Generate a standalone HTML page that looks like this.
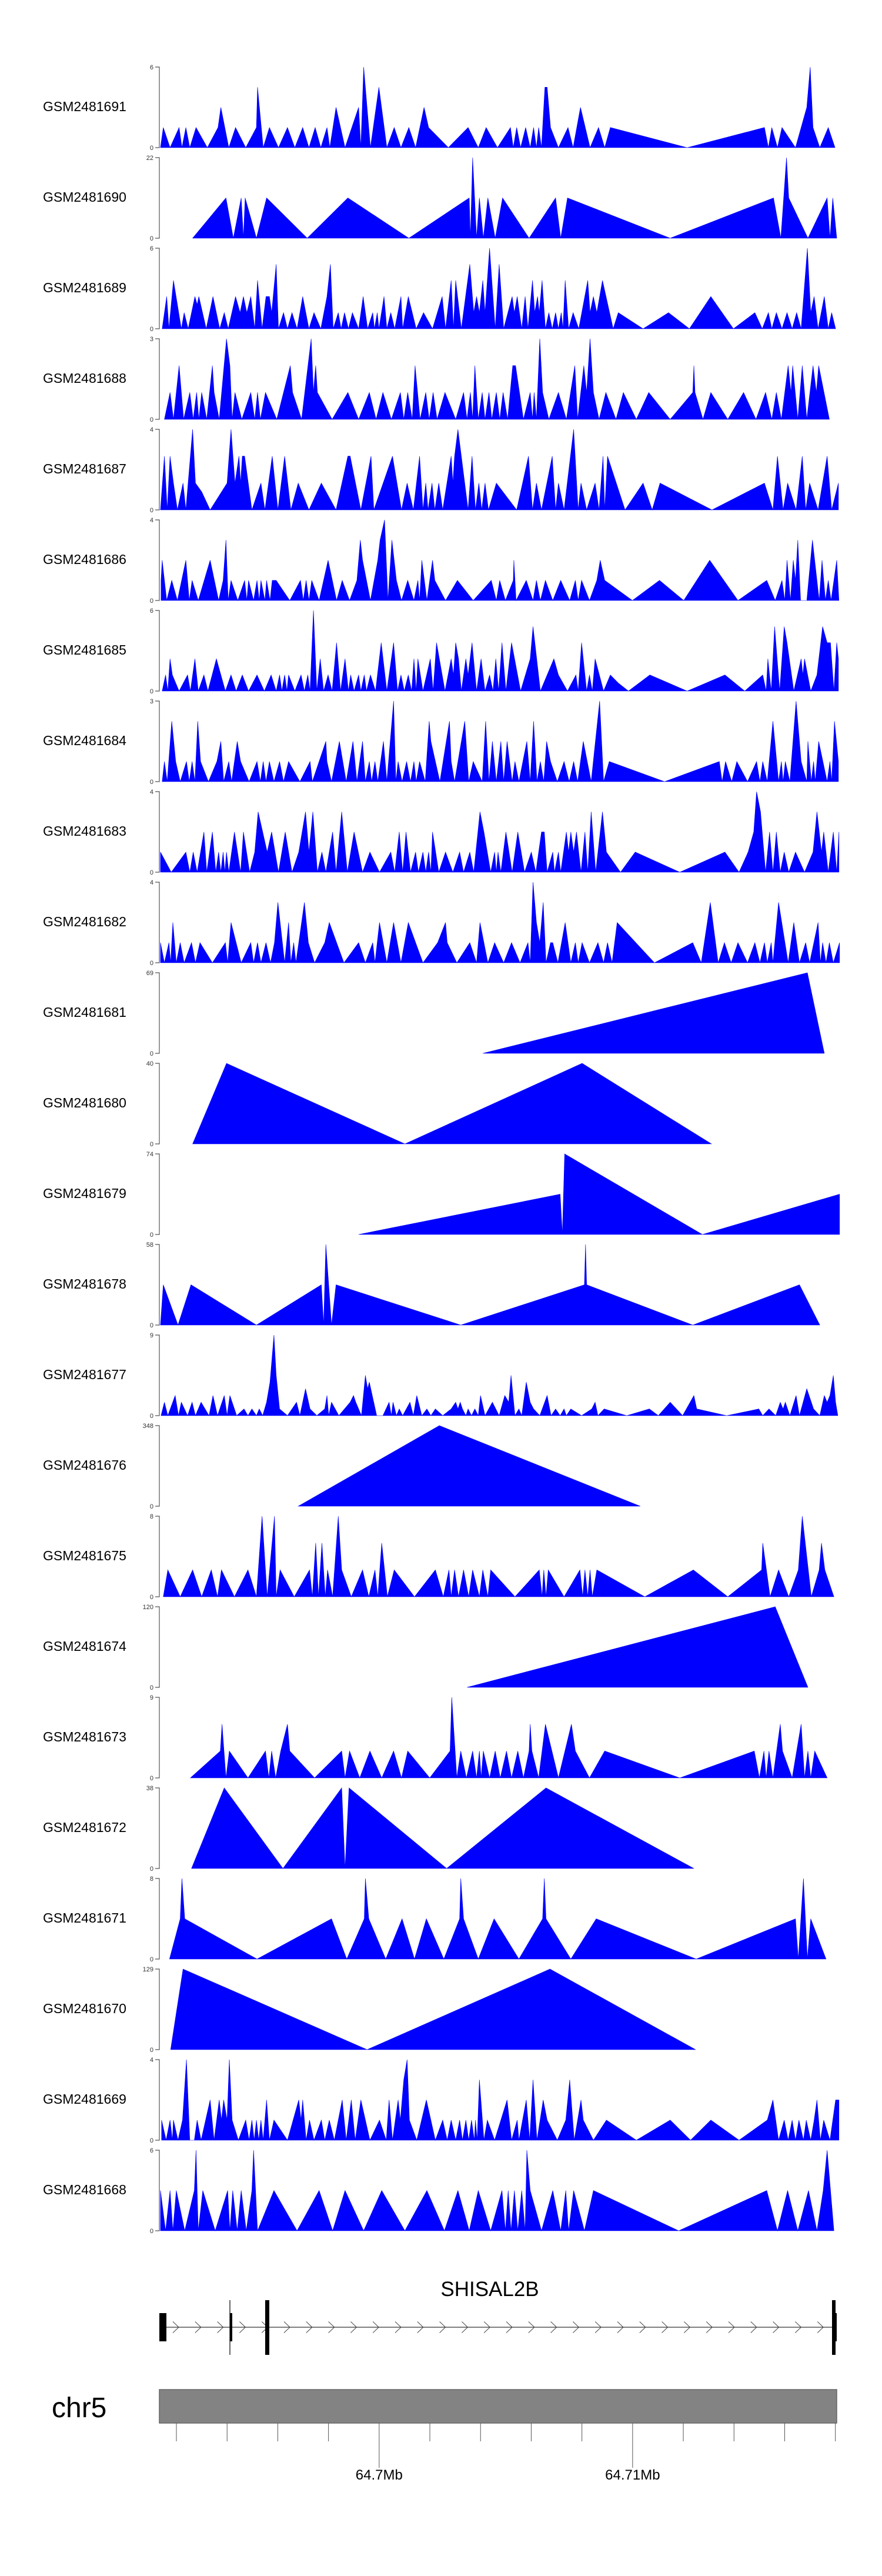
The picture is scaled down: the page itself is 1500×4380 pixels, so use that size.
<!DOCTYPE html>
<html><head><meta charset="utf-8"><style>
html,body{margin:0;padding:0;background:#fff;}
svg{display:block;font-family:"Liberation Sans",Arial,sans-serif;}
</style></head><body>
<svg id="chart" xmlns="http://www.w3.org/2000/svg" width="1500" height="4380" viewBox="0 0 1500 4380">
<g id="tracks"></g>
<g id="gene">
  <text x="833" y="3904" font-size="35" text-anchor="middle" fill="#000">SHISAL2B</text>
  <line x1="283" y1="3957" x2="1416" y2="3957" stroke="#333" stroke-width="1.3"/>
  <g id="chevrons"></g>
  <rect x="271" y="3933" width="12" height="48" fill="#000"/>
  <line x1="391" y1="3911" x2="391" y2="4004" stroke="#000" stroke-width="1.2"/>
  <rect x="391" y="3933" width="4" height="48" fill="#000"/>
  <rect x="451" y="3911" width="7" height="93" fill="#000"/>
  <rect x="1415" y="3911" width="6" height="93" fill="#000"/>
  <rect x="1420" y="3933" width="3" height="48" fill="#000"/>
</g>
<g id="ideo">
  <text x="88" y="4110" font-size="48" fill="#000">chr5</text>
  <rect x="271" y="4063" width="1152" height="57" fill="#838383" stroke="#666" stroke-width="1.5"/>
  <g id="gticks"></g>
</g>
</svg>
<script>
const sampleNames = ["GSM2481691","GSM2481690","GSM2481689","GSM2481688","GSM2481687","GSM2481686","GSM2481685","GSM2481684","GSM2481683","GSM2481682","GSM2481681","GSM2481680","GSM2481679","GSM2481678","GSM2481677","GSM2481676","GSM2481675","GSM2481674","GSM2481673","GSM2481672","GSM2481671","GSM2481670","GSM2481669","GSM2481668"];
const yMaxes = [6,22,6,3,4,4,6,3,4,4,69,40,74,58,9,348,8,120,9,38,8,129,4,6];
// each track: [position (genomic units from region start), coverage]
const t1 = [[.02,0],[.07,1.5],[.19,0],[.35,1.5],[.40,0],[.47,1.5],[.54,0],[.65,1.5],[.85,0],[1.04,1.5],[1.09,3],[1.23,0],[1.35,1.5],[1.53,0],[1.72,1.5],[1.74,4.5],[1.84,0],[1.95,1.5],[2.11,0],[2.27,1.5],[2.40,0],[2.54,1.5],[2.65,0],[2.76,1.5],[2.86,0],[2.97,1.5],[3.02,0],[3.13,3],[3.29,0],[3.53,3],[3.57,0],[3.62,6],[3.74,0],[3.89,4.5],[4.03,0],[4.16,1.5],[4.28,0],[4.42,1.5],[4.54,0],[4.69,3],[4.77,1.5],[5.12,0],[5.47,1.5],[5.65,0],[5.79,1.5],[5.99,0],[6.22,1.5],[6.27,0],[6.33,1.5],[6.40,0],[6.49,1.5],[6.57,0],[6.63,1.5],[6.68,0],[6.72,1.5],[6.77,0],[6.83,4.5],[6.87,4.5],[6.93,1.5],[7.07,0],[7.24,1.5],[7.33,0],[7.46,3],[7.63,0],[7.78,1.5],[7.89,0],[7.99,1.5],[9.35,0],[10.72,1.5],[10.79,0],[10.85,1.5],[10.95,0],[11.03,1.5],[11.27,0],[11.47,3],[11.53,6],[11.58,1.5],[11.70,0],[11.85,1.5],[11.97,0]];
const t2 = [[.59,0],[1.18,11],[1.31,0],[1.45,11],[1.49,0],[1.52,11],[1.72,0],[1.90,11],[2.62,0],[3.34,11],[4.42,0],[5.49,11],[5.51,0],[5.55,22],[5.62,0],[5.67,11],[5.74,0],[5.82,11],[5.95,0],[6.08,11],[6.55,0],[7.02,11],[7.11,0],[7.23,11],[9.05,0],[10.88,11],[11.01,0],[11.11,22],[11.15,11],[11.49,0],[11.83,11],[11.88,0],[11.93,11],[12.0,0]];
const t3 = [[.05,0],[.13,2.4],[.17,0],[.25,3.6],[.39,0],[.44,1.2],[.51,0],[.63,2.4],[.67,1.8],[.70,2.4],[.83,0],[.95,2.4],[1.07,0],[1.15,1.2],[1.22,0],[1.35,2.4],[1.43,1.2],[1.49,2.4],[1.55,1.2],[1.62,2.4],[1.69,0],[1.74,3.6],[1.82,0],[1.89,2.4],[1.95,2.4],[1.99,1.2],[2.07,4.8],[2.11,0],[2.20,1.2],[2.27,0],[2.35,1.2],[2.44,0],[2.54,2.4],[2.65,0],[2.74,1.2],[2.86,0],[2.97,2.4],[3.03,4.8],[3.08,0],[3.17,1.2],[3.22,0],[3.28,1.2],[3.35,0],[3.42,1.2],[3.53,0],[3.61,2.4],[3.69,0],[3.78,1.2],[3.81,0],[3.86,1.2],[3.89,0],[3.98,2.4],[4.03,0],[4.10,1.2],[4.17,0],[4.28,2.4],[4.31,0],[4.41,2.4],[4.55,0],[4.68,1.2],[4.84,0],[5.01,2.4],[5.07,0],[5.17,3.6],[5.21,0],[5.25,3.6],[5.35,0],[5.50,4.8],[5.57,1.2],[5.62,2.4],[5.67,1.2],[5.73,3.6],[5.77,1.2],[5.85,6],[5.95,0],[6.02,4.8],[6.10,0],[6.25,2.4],[6.29,1.2],[6.34,2.4],[6.42,0],[6.48,2.4],[6.53,0],[6.61,3.6],[6.65,1.2],[6.70,2.4],[6.73,1.2],[6.78,3.6],[6.84,0],[6.90,1.2],[6.96,0],[7.02,1.2],[7.07,0],[7.12,1.2],[7.15,0],[7.19,3.6],[7.25,0],[7.33,1.2],[7.43,0],[7.59,3.6],[7.63,1.2],[7.69,2.4],[7.75,1.2],[7.85,3.6],[8.04,0],[8.13,1.2],[8.57,0],[9.02,1.2],[9.39,0],[9.77,2.4],[10.17,0],[10.55,1.2],[10.68,0],[10.79,1.2],[10.85,0],[10.93,1.2],[11.03,0],[11.12,1.2],[11.21,0],[11.29,1.2],[11.37,0],[11.48,6],[11.54,1.2],[11.60,2.4],[11.67,0],[11.78,2.4],[11.85,0],[11.91,1.2],[11.98,0]];
const t4 = [[.09,0],[.19,1],[.25,0],[.35,2],[.43,0],[.54,1],[.60,0],[.66,1],[.70,0],[.75,1],[.84,0],[.94,2],[.97,1],[1.06,0],[1.19,3],[1.25,2],[1.29,0],[1.34,1],[1.46,0],[1.62,1],[1.69,0],[1.74,1],[1.79,0],[1.88,1],[2.08,0],[2.32,2],[2.36,1],[2.52,0],[2.69,3],[2.73,1],[2.77,2],[2.80,1],[3.06,0],[3.34,1],[3.53,0],[3.72,1],[3.84,0],[3.96,1],[4.11,0],[4.27,1],[4.33,0],[4.40,1],[4.48,0],[4.53,2],[4.62,0],[4.72,1],[4.78,0],[4.85,1],[4.92,0],[5.06,1],[5.25,0],[5.39,1],[5.45,0],[5.51,1],[5.55,0],[5.59,2],[5.65,0],[5.72,1],[5.77,0],[5.84,1],[5.89,0],[5.97,1],[6.03,0],[6.09,1],[6.17,0],[6.26,2],[6.31,2],[6.45,0],[6.57,1],[6.61,0],[6.64,1],[6.68,0],[6.74,3],[6.79,1],[6.90,0],[7.07,1],[7.21,0],[7.36,2],[7.41,0],[7.52,2],[7.57,1],[7.63,3],[7.69,1],[7.79,0],[7.91,1],[8.09,0],[8.22,1],[8.45,0],[8.67,1],[9.05,0],[9.45,1],[9.47,2],[9.49,1],[9.63,0],[9.77,1],[10.07,0],[10.35,1],[10.57,0],[10.74,1],[10.85,0],[10.93,1],[11.02,0],[11.14,2],[11.19,1],[11.22,2],[11.31,0],[11.39,2],[11.47,0],[11.58,2],[11.64,1],[11.68,2],[11.87,0]];
const t5 = [[.02,0],[.09,2.67],[.14,0],[.19,2.67],[.25,1.33],[.32,0],[.42,1.33],[.47,0],[.59,4],[.64,1.33],[.75,.9],[.90,0],[1.20,1.33],[1.27,4],[1.34,1.33],[1.41,2.67],[1.44,1.33],[1.47,2.67],[1.51,2.67],[1.64,0],[1.80,1.33],[1.87,0],[2.00,2.67],[2.10,0],[2.22,2.67],[2.33,0],[2.46,1.33],[2.65,0],[2.87,1.33],[3.13,0],[3.34,2.67],[3.38,2.67],[3.57,0],[3.75,2.67],[3.80,0],[4.13,2.67],[4.29,0],[4.39,1.33],[4.50,0],[4.61,2.67],[4.67,0],[4.72,1.33],[4.76,0],[4.83,1.33],[4.88,0],[4.95,1.33],[5.02,0],[5.17,2.67],[5.20,1.33],[5.23,2.67],[5.29,4],[5.47,0],[5.54,2.67],[5.60,0],[5.66,1.33],[5.71,0],[5.77,1.33],[5.83,0],[5.97,1.33],[6.33,0],[6.54,2.67],[6.61,0],[6.68,1.33],[6.77,0],[6.96,2.67],[7.02,0],[7.07,1.33],[7.17,0],[7.34,4],[7.42,0],[7.47,1.33],[7.57,0],[7.72,1.33],[7.79,0],[7.86,2.67],[7.89,0],[7.94,2.67],[8.25,0],[8.57,1.33],[8.73,0],[8.87,1.33],[9.79,0],[10.72,1.33],[10.87,0],[10.95,2.67],[11.05,0],[11.13,1.33],[11.28,0],[11.39,2.67],[11.45,0],[11.52,1.33],[11.67,0],[11.83,2.67],[11.91,0],[12.03,1.33]];
const t6 = [[.03,1],[.05,2],[.13,0],[.22,1],[.32,0],[.47,2],[.53,0],[.58,1],[.69,0],[.90,2],[1.05,0],[1.13,1],[1.18,3],[1.22,0],[1.27,1],[1.39,0],[1.51,1],[1.55,0],[1.58,1],[1.67,0],[1.73,1],[1.77,0],[1.80,1],[1.87,0],[1.90,1],[1.96,0],[2.00,1],[2.07,1],[2.31,0],[2.50,1],[2.55,0],[2.60,1],[2.65,0],[2.70,1],[2.83,0],[2.99,2],[3.14,0],[3.24,1],[3.37,0],[3.50,1],[3.56,3],[3.60,2],[3.74,0],[3.87,2],[3.91,3],[3.99,4],[4.05,0],[4.12,3],[4.20,1],[4.29,0],[4.40,1],[4.51,0],[4.58,1],[4.61,0],[4.65,2],[4.74,0],[4.84,2],[4.88,1],[5.07,0],[5.28,1],[5.56,0],[5.88,1],[5.97,0],[6.03,1],[6.13,0],[6.27,1],[6.28,2],[6.32,0],[6.50,1],[6.62,0],[6.68,1],[6.75,0],[6.84,1],[6.97,0],[7.11,1],[7.27,0],[7.37,1],[7.42,0],[7.48,1],[7.62,0],[7.75,1],[7.81,2],[7.89,1],[8.38,0],[8.86,1],[9.29,0],[9.75,2],[10.25,0],[10.76,1],[10.91,0],[11.03,1],[11.08,0],[11.12,2],[11.18,0],[11.23,2],[11.27,1],[11.31,3],[11.36,0],[11.47,0],[11.57,3],[11.69,0],[11.74,2],[11.80,0],[11.85,1],[11.90,0],[12.00,2],[12.04,0]];
const t7 = [[.05,0],[.11,1.2],[.15,0],[.19,2.4],[.23,1.2],[.29,.6],[.35,0],[.50,1.2],[.55,0],[.63,2.4],[.69,0],[.79,1.2],[.86,0],[1.01,2.4],[1.17,0],[1.27,1.2],[1.36,0],[1.47,1.2],[1.58,0],[1.73,1.2],[1.86,0],[1.98,1.2],[2.07,0],[2.13,1.2],[2.17,0],[2.22,1.2],[2.26,0],[2.29,1.2],[2.40,0],[2.51,1.2],[2.57,0],[2.63,1.2],[2.67,0],[2.73,6],[2.79,0],[2.85,2.4],[2.91,0],[2.99,1.2],[3.06,0],[3.14,3.6],[3.21,0],[3.29,2.4],[3.35,0],[3.39,1.2],[3.45,0],[3.53,1.2],[3.57,0],[3.63,1.2],[3.67,0],[3.74,1.2],[3.83,0],[3.93,3.6],[4.03,0],[4.15,3.6],[4.22,0],[4.28,1.2],[4.34,0],[4.41,1.2],[4.47,0],[4.51,2.4],[4.55,0],[4.58,2.4],[4.67,0],[4.80,2.4],[4.85,0],[4.91,3.6],[5.06,0],[5.17,2.4],[5.21,1.2],[5.25,3.6],[5.30,2.4],[5.35,0],[5.43,2.4],[5.47,1.2],[5.54,3.6],[5.62,0],[5.70,2.4],[5.77,0],[5.85,1.2],[5.91,0],[5.96,2.4],[6.01,0],[6.07,3.6],[6.14,0],[6.24,3.6],[6.40,0],[6.57,2.4],[6.62,4.8],[6.75,0],[6.99,2.4],[7.07,1.2],[7.23,0],[7.38,1.2],[7.42,0],[7.48,3.6],[7.57,0],[7.62,1.2],[7.67,0],[7.72,2.4],[7.87,0],[7.99,1.2],[8.13,.6],[8.31,0],[8.69,1.2],[9.35,0],[10.02,1.2],[10.37,0],[10.69,1.2],[10.75,0],[10.78,2.4],[10.84,0],[10.90,4.8],[10.99,0],[11.07,4.8],[11.12,3.6],[11.24,0],[11.37,2.4],[11.40,1.2],[11.43,2.4],[11.54,0],[11.65,1.2],[11.75,4.8],[11.83,3.6],[11.89,3.6],[11.95,0],[12.00,3.6],[12.03,2.4]];
const t8 = [[.05,0],[.09,.75],[.14,0],[.22,2.25],[.29,.75],[.37,0],[.48,.75],[.53,0],[.58,.75],[.63,0],[.68,2.25],[.73,.75],[.87,0],[1.02,.75],[1.09,1.5],[1.14,0],[1.23,.75],[1.28,0],[1.38,1.5],[1.44,.75],[1.59,0],[1.73,.75],[1.79,0],[1.84,.75],[1.89,0],[1.95,.75],[2.03,0],[2.13,.75],[2.20,0],[2.29,.75],[2.49,0],[2.67,.75],[2.71,0],[2.95,1.5],[2.97,.75],[3.05,0],[3.19,1.5],[3.31,0],[3.43,1.5],[3.50,0],[3.60,1.5],[3.65,0],[3.72,.75],[3.76,0],[3.82,.75],[3.87,0],[3.97,1.5],[4.03,0],[4.15,3],[4.19,0],[4.23,.75],[4.30,0],[4.38,.75],[4.45,0],[4.51,.75],[4.55,0],[4.61,.75],[4.71,0],[4.78,2.25],[4.81,1.5],[4.97,0],[5.14,2.25],[5.17,.75],[5.23,0],[5.41,2.25],[5.48,0],[5.56,.75],[5.72,0],[5.78,2.25],[5.84,0],[5.90,1.5],[5.97,0],[6.05,1.5],[6.10,0],[6.16,1.5],[6.25,0],[6.30,.75],[6.37,0],[6.51,1.5],[6.57,0],[6.63,2.25],[6.69,0],[6.75,.75],[6.81,0],[6.86,1.5],[6.93,.75],[7.05,0],[7.17,.75],[7.26,0],[7.34,.75],[7.41,0],[7.51,1.5],[7.65,0],[7.80,3],[7.87,0],[7.97,.75],[8.95,0],[9.92,.75],[9.97,0],[10.03,.75],[10.14,0],[10.23,.75],[10.42,0],[10.58,.75],[10.64,0],[10.69,.75],[10.77,0],[10.87,2.25],[10.97,0],[11.02,.75],[11.05,0],[11.09,.75],[11.17,0],[11.28,3],[11.37,.75],[11.47,0],[11.49,1.5],[11.55,0],[11.59,.75],[11.62,0],[11.68,1.5],[11.83,0],[11.88,.75],[11.91,0],[11.96,2.25],[12.03,.75]];
const t9 = [[.02,1],[.21,0],[.47,1],[.54,0],[.60,1],[.67,0],[.73,1],[.79,2],[.84,0],[.94,2],[1.00,0],[1.05,1],[1.09,0],[1.13,1],[1.16,0],[1.19,1],[1.23,0],[1.33,2],[1.44,0],[1.49,2],[1.60,0],[1.69,1],[1.75,3],[1.83,2],[1.91,1],[1.99,2],[2.11,0],[2.23,2],[2.35,0],[2.47,1],[2.59,3],[2.65,1],[2.72,3],[2.80,0],[2.88,1],[2.95,0],[3.07,2],[3.13,0],[3.23,3],[3.33,0],[3.45,2],[3.60,0],[3.73,1],[3.90,0],[4.10,1],[4.17,0],[4.25,2],[4.31,0],[4.37,2],[4.45,0],[4.54,1],[4.59,0],[4.67,1],[4.72,0],[4.77,1],[4.81,0],[4.84,2],[4.95,0],[5.07,1],[5.20,0],[5.32,1],[5.39,0],[5.50,1],[5.57,0],[5.68,3],[5.75,2],[5.87,0],[5.94,1],[5.97,0],[6.00,1],[6.05,0],[6.14,2],[6.25,0],[6.35,2],[6.47,0],[6.59,1],[6.67,0],[6.77,2],[6.82,2],[6.87,0],[6.97,1],[7.00,0],[7.07,1],[7.11,0],[7.21,2],[7.25,1],[7.29,2],[7.34,1],[7.39,2],[7.47,0],[7.54,2],[7.59,0],[7.65,3],[7.73,0],[7.85,3],[7.92,1],[8.17,0],[8.43,1],[9.22,0],[10.02,1],[10.27,0],[10.43,1],[10.53,2],[10.58,4],[10.65,3],[10.74,0],[10.81,2],[10.87,0],[10.93,2],[11.00,0],[11.07,1],[11.15,0],[11.27,1],[11.43,0],[11.58,1],[11.65,3],[11.73,1],[11.77,2],[11.85,0],[11.94,2],[12.00,0],[12.04,2]];
const t10 = [[.02,1],[.09,0],[.17,1],[.20,0],[.24,2],[.30,0],[.37,1],[.44,0],[.57,1],[.64,0],[.72,1],[.94,0],[1.17,1],[1.21,0],[1.27,2],[1.45,0],[1.62,1],[1.67,0],[1.74,1],[1.80,0],[1.89,1],[1.97,0],[2.04,1],[2.10,3],[2.22,0],[2.29,2],[2.33,0],[2.38,1],[2.42,0],[2.57,3],[2.64,1],[2.75,0],[2.93,1],[3.01,2],[3.27,0],[3.53,1],[3.65,0],[3.78,1],[3.82,0],[3.90,2],[4.03,0],[4.15,2],[4.28,0],[4.41,2],[4.67,0],[4.93,1],[5.07,2],[5.10,1],[5.27,0],[5.50,1],[5.62,0],[5.68,2],[5.82,0],[5.94,1],[6.10,0],[6.24,1],[6.39,0],[6.53,1],[6.57,0],[6.62,4],[6.68,2],[6.74,1],[6.80,3],[6.85,0],[6.93,1],[6.97,1],[7.06,0],[7.19,2],[7.29,0],[7.37,1],[7.42,0],[7.49,1],[7.62,0],[7.77,1],[7.87,0],[7.94,1],[8.02,0],[8.11,2],[8.77,0],[9.45,1],[9.60,0],[9.76,3],[9.90,0],[10.01,1],[10.13,0],[10.25,1],[10.42,0],[10.55,1],[10.64,0],[10.72,1],[10.77,0],[10.84,1],[10.87,0],[10.97,3],[11.14,0],[11.24,2],[11.34,0],[11.45,1],[11.52,0],[11.67,2],[11.71,0],[11.75,1],[11.81,0],[11.87,1],[11.94,0],[12.05,1]];
const t11 = [[5.73,0],[11.48,69],[11.78,0]];
const t12 = [[.59,0],[1.19,40],[4.35,0],[7.49,40],[9.78,0]];
const t13 = [[3.53,0],[7.10,37],[7.14,0],[7.18,74],[9.62,0],[12.05,37]];
const t14 = [[.02,0],[.07,29],[.33,0],[.56,29],[1.72,0],[2.87,29],[2.91,0],[2.95,58],[3.05,0],[3.13,29],[5.34,0],[7.53,29],[7.55,58],[7.57,29],[9.45,0],[11.34,29],[11.70,0]];
const t15 = [[.03,0],[.09,1.5],[.15,0],[.28,2.25],[.34,0],[.39,1.5],[.50,0],[.58,1.5],[.64,0],[.74,1.5],[.88,0],[.95,2.25],[1.03,0],[1.15,2.25],[1.20,0],[1.25,2.25],[1.37,0],[1.50,.75],[1.57,0],[1.64,.75],[1.72,0],[1.77,.75],[1.83,0],[1.90,1.5],[1.96,3.75],[2.03,9],[2.07,4.5],[2.13,.75],[2.27,0],[2.43,1.5],[2.49,0],[2.59,3],[2.67,.75],[2.79,0],[2.93,.75],[2.97,2.25],[3.00,0],[3.05,1.5],[3.18,0],[3.28,.75],[3.38,1.5],[3.44,2.25],[3.48,1.5],[3.58,0],[3.65,4.5],[3.69,3],[3.72,3.75],[3.85,0],[3.96,0],[4.07,1.5],[4.11,0],[4.14,1.5],[4.20,0],[4.25,.75],[4.31,0],[4.44,1.5],[4.50,0],[4.56,2.25],[4.65,0],[4.74,.75],[4.81,0],[4.89,.75],[5.02,0],[5.17,.75],[5.25,1.5],[5.29,.75],[5.33,1.5],[5.37,.75],[5.43,0],[5.47,.75],[5.53,0],[5.59,.75],[5.65,0],[5.69,2.25],[5.77,0],[5.90,1.5],[6.02,0],[6.12,2.25],[6.19,1.5],[6.23,4.5],[6.30,0],[6.37,.75],[6.42,0],[6.50,3.75],[6.57,1.5],[6.63,.75],[6.74,0],[6.87,2.25],[6.94,0],[7.02,.75],[7.10,0],[7.17,.75],[7.21,0],[7.29,.75],[7.48,0],[7.66,.75],[7.72,1.5],[7.77,0],[7.88,.75],[8.28,0],[8.68,.75],[8.84,0],[9.05,1.5],[9.27,0],[9.47,2.25],[9.52,.75],[10.05,0],[10.62,.75],[10.69,0],[10.80,.75],[10.92,0],[11.00,1.5],[11.05,.75],[11.09,1.5],[11.17,0],[11.28,2.25],[11.34,0],[11.47,3],[11.59,.75],[11.70,0],[11.78,2.25],[11.83,1.5],[11.88,2.25],[11.94,4.5],[11.98,1.5],[12.02,0]];
const t16 = [[2.46,0],[4.96,348],[8.52,0]];
const t17 = [[.07,0],[.15,2.67],[.37,0],[.59,2.67],[.75,0],[.92,2.67],[1.03,0],[1.10,2.67],[1.33,0],[1.57,2.67],[1.72,0],[1.82,8],[1.91,0],[2.04,8],[2.07,0],[2.14,2.67],[2.39,0],[2.66,2.67],[2.71,0],[2.77,5.33],[2.82,0],[2.88,5.33],[2.94,0],[2.98,2.67],[3.07,0],[3.17,8],[3.23,2.67],[3.40,0],[3.60,2.67],[3.71,0],[3.82,2.67],[3.87,0],[3.94,5.33],[4.04,0],[4.16,2.67],[4.52,0],[4.89,2.67],[5.03,0],[5.13,2.67],[5.17,0],[5.23,2.67],[5.30,0],[5.39,2.67],[5.48,0],[5.55,2.67],[5.67,0],[5.73,2.67],[5.82,0],[5.87,2.67],[6.30,0],[6.73,2.67],[6.78,0],[6.81,2.67],[6.85,0],[6.89,2.67],[7.17,0],[7.45,2.67],[7.50,0],[7.54,2.67],[7.59,0],[7.63,2.67],[7.67,0],[7.75,2.67],[8.60,0],[9.46,2.67],[10.07,0],[10.67,2.67],[10.69,5.33],[10.82,0],[10.97,2.67],[11.15,0],[11.32,2.67],[11.39,8],[11.55,0],[11.69,2.67],[11.73,5.33],[11.79,2.67],[11.95,0]];
const t18 = [[5.45,0],[10.91,120],[11.49,0]];
const t19 = [[.55,0],[1.08,3],[1.11,6],[1.18,0],[1.24,3],[1.57,0],[1.88,3],[1.94,0],[1.99,3],[2.06,0],[2.15,3],[2.27,6],[2.31,3],[2.75,0],[3.23,3],[3.29,0],[3.37,3],[3.55,0],[3.73,3],[3.94,0],[4.15,3],[4.29,0],[4.40,3],[4.79,0],[5.15,3],[5.18,9],[5.27,0],[5.34,3],[5.44,0],[5.55,3],[5.62,0],[5.67,3],[5.70,0],[5.74,3],[5.85,0],[5.95,3],[6.04,0],[6.15,3],[6.24,0],[6.35,3],[6.45,0],[6.55,3],[6.57,6],[6.60,3],[6.72,0],[6.84,6],[7.07,0],[7.30,6],[7.37,3],[7.62,0],[7.89,3],[9.22,0],[10.54,3],[10.63,0],[10.71,3],[10.75,0],[10.80,3],[10.87,0],[11.00,6],[11.04,3],[11.21,0],[11.37,6],[11.43,0],[11.49,3],[11.54,0],[11.61,3],[11.83,0]];
const t20 = [[.57,0],[1.15,38],[2.19,0],[3.23,38],[3.29,0],[3.36,38],[5.09,0],[6.85,38],[9.47,0]];
const t21 = [[.18,0],[.37,4],[.40,8],[.45,4],[1.73,0],[3.05,4],[3.32,0],[3.63,4],[3.65,8],[3.71,4],[4.01,0],[4.30,4],[4.52,0],[4.73,4],[5.04,0],[5.32,4],[5.34,8],[5.39,4],[5.65,0],[5.93,4],[6.37,0],[6.79,4],[6.82,8],[6.85,4],[7.29,0],[7.74,4],[9.51,0],[11.27,4],[11.32,0],[11.41,8],[11.48,0],[11.54,4],[11.81,0]];
const t22 = [[.20,0],[.42,129],[3.68,0],[6.92,129],[9.50,0]];
const t23 = [[.04,1],[.12,0],[.19,1],[.23,0],[.25,1],[.33,0],[.41,1],[.48,4],[.54,0],[.62,0],[.67,1],[.74,0],[.90,2],[.97,0],[1.06,2],[1.10,1],[1.14,2],[1.20,1],[1.24,4],[1.29,1],[1.40,0],[1.53,1],[1.59,0],[1.64,1],[1.68,0],[1.72,1],[1.76,0],[1.80,1],[1.84,0],[1.90,2],[1.95,0],[2.03,1],[2.27,0],[2.47,2],[2.51,1],[2.54,2],[2.60,0],[2.66,1],[2.74,0],[2.87,1],[2.93,0],[3.01,1],[3.10,0],[3.24,2],[3.31,0],[3.40,2],[3.47,0],[3.57,2],[3.73,0],[3.90,1],[4.02,0],[4.07,2],[4.13,0],[4.23,2],[4.27,1],[4.33,3],[4.39,4],[4.43,1],[4.56,0],[4.73,2],[4.89,0],[5.02,1],[5.10,0],[5.17,1],[5.25,0],[5.32,1],[5.37,0],[5.43,1],[5.48,0],[5.53,1],[5.58,0],[5.60,1],[5.63,0],[5.67,3],[5.75,0],[5.81,1],[5.94,0],[6.05,1],[6.16,2],[6.24,0],[6.34,1],[6.37,0],[6.50,2],[6.56,0],[6.62,3],[6.69,0],[6.80,2],[6.87,1],[7.05,0],[7.20,1],[7.27,3],[7.35,0],[7.47,2],[7.51,1],[7.69,0],[7.92,1],[8.45,0],[9.05,1],[9.41,0],[9.77,1],[10.27,0],[10.77,1],[10.87,2],[10.97,0],[11.07,1],[11.14,0],[11.21,1],[11.27,0],[11.33,1],[11.41,0],[11.46,1],[11.54,0],[11.60,1],[11.65,2],[11.71,0],[11.77,1],[11.88,0],[11.98,2],[12.04,2]];
const t24 = [[.02,3],[.11,0],[.19,3],[.24,0],[.30,3],[.45,0],[.62,3],[.65,6],[.69,0],[.77,3],[.99,0],[1.21,3],[1.25,0],[1.30,3],[1.38,0],[1.45,3],[1.54,0],[1.64,3],[1.67,6],[1.74,0],[2.03,3],[2.44,0],[2.83,3],[3.07,0],[3.29,3],[3.62,0],[3.94,3],[4.35,0],[4.74,3],[5.05,0],[5.29,3],[5.49,0],[5.65,3],[5.87,0],[6.07,3],[6.13,0],[6.18,3],[6.23,0],[6.29,3],[6.35,0],[6.42,3],[6.48,0],[6.51,6],[6.57,3],[6.77,0],[6.97,3],[7.11,0],[7.20,3],[7.25,0],[7.34,3],[7.53,0],[7.69,3],[9.20,0],[10.76,3],[10.95,0],[11.13,3],[11.31,0],[11.50,3],[11.65,0],[11.76,3],[11.83,6],[11.95,0]];
const trackData = [t1,t2,t3,t4,t5,t6,t7,t8,t9,t10,t11,t12,t13,t14,t15,t16,t17,t18,t19,t20,t21,t22,t23,t24];
// genome axis ticks (Mb) and labelled ticks
const tickMb = [64.692,64.694,64.696,64.698,64.700,64.702,64.704,64.706,64.708,64.710,64.712,64.714,64.716,64.718];
const labelMb = [64.70,64.71];
const labelText = ["64.7Mb","64.71Mb"];

const NS = "http://www.w3.org/2000/svg";
const X0 = 271, PX_PER_U = 96.0;
function xScale(u){ return X0 + u*PX_PER_U; }
function mbToU(mb){ return 3.894 + (mb-64.7)*500*0.898; }
const TOP0 = 114, PITCH = 154, H = 137;
function mk(tag, attrs, parent){ const e=document.createElementNS(NS,tag); for(const k in attrs) e.setAttribute(k,attrs[k]); parent.appendChild(e); return e; }

const tracksG = document.getElementById('tracks');
trackData.forEach((d,i)=>{
  const y0 = TOP0 + i*PITCH + H, yt = y0 - H, ymax = yMaxes[i];
  const yS = v => y0 - v/ymax*H;
  const g = mk('g',{},tracksG);
  
  
  const lab = mk('text',{x:73,y:y0-70+8,'font-size':23,fill:'#000'},g);
  lab.textContent = sampleNames[i];
  
  
  const ax = mk('path',{d:`M264 ${yt}H271V${y0}H264`,stroke:'#555',fill:'none','stroke-width':1.2},g);
  
  
  [[ymax,yt],[0,y0]].forEach(([v,y])=>{
    const t = mk('text',{x:261,y:y+4,'font-size':11,'text-anchor':'end',fill:'#333'},g);
    t.textContent = v;
    
    
  });
  let p = `M${xScale(d[0][0]).toFixed(1)} ${y0}`;
  d.forEach(([u,v])=>{ p += `L${xScale(u).toFixed(1)} ${yS(v).toFixed(1)}`; });
  p += `L${xScale(d[d.length-1][0]).toFixed(1)} ${y0}Z`;
  const area = mk('path',{d:p,fill:'#0000ff',stroke:'#0000ff','stroke-width':0.6},g);
  
  
});

const chev = document.getElementById('chevrons');
for(let x=304; x<1414; x+=37.8){
  const c = mk('path',{d:`M${(x-10).toFixed(1)} 3947.5L${x.toFixed(1)} 3957L${(x-10).toFixed(1)} 3966.5`,stroke:'#444',fill:'none','stroke-width':1},chev);
  
  
}

const gt = document.getElementById('gticks');
tickMb.forEach(mb=>{
  const x = xScale(mbToU(mb));
  const major = labelMb.some(l=>Math.abs(l-mb)<1e-6);
  const l = mk('line',{x1:x,x2:x,y1:4120,y2:major?4196:4151,stroke:'#555','stroke-width':1},gt);
  
  
});
labelMb.forEach((mb,i)=>{
  const t = mk('text',{x:xScale(mbToU(mb)),y:4216,'font-size':24,'text-anchor':'middle',fill:'#000'},gt);
  t.textContent = labelText[i];
  
  
});
</script>
</body></html>
